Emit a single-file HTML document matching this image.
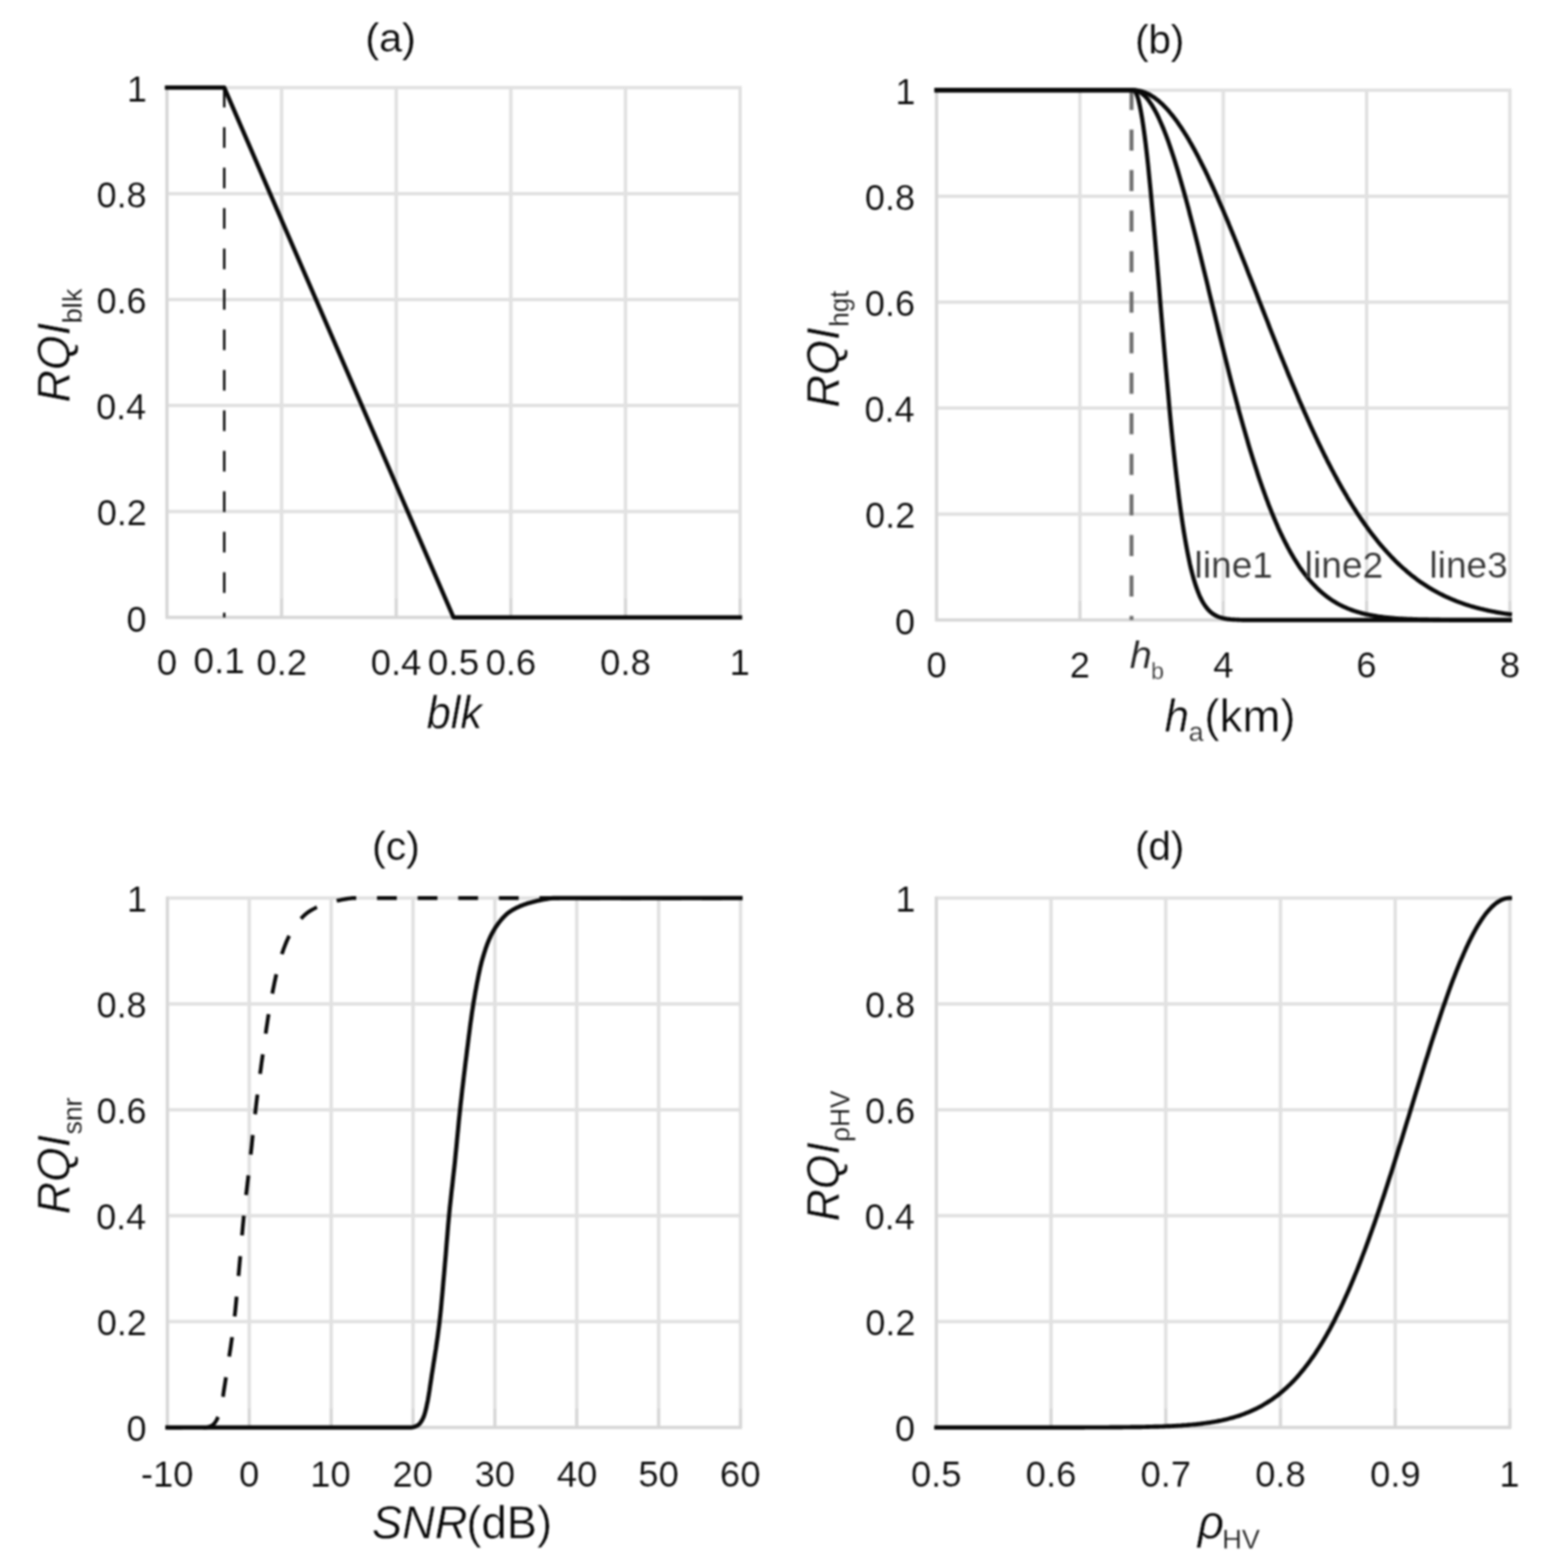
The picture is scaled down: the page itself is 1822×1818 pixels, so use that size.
<!DOCTYPE html>
<html lang="en">
<head>
<meta charset="utf-8">
<title>Radar quality index functions</title>
<style>
html,body{margin:0;padding:0;background:#fff;}
body{width:1822px;height:1818px;overflow:hidden;}
svg{display:block;font-family:"Liberation Sans",sans-serif;}
</style>
</head>
<body>
<svg width="1822" height="1818" viewBox="0 0 1822 1818">
<rect width="1822" height="1818" fill="#fff"/>
<g style="filter:blur(1px)">
<g id="shapes">
<path d="M194,100.3V718.8M327.2,100.3V718.8M460.4,100.3V718.8M593.6,100.3V718.8M726.8,100.3V718.8M860,100.3V718.8M192.5,717.3H861.5M192.5,594.2H861.5M192.5,471.1H861.5M192.5,348H861.5M192.5,224.9H861.5M192.5,101.8H861.5" fill="none" stroke="#e1e1e1" stroke-width="4.0"/>
<path d="M194,695.3V718.8M327.2,695.3V718.8M460.4,695.3V718.8M593.6,695.3V718.8M726.8,695.3V718.8M860,695.3V718.8M194,100.3V718.8M192.5,717.3H861.5" fill="none" stroke="#d6d6d6" stroke-width="3"/>
<path d="M260.6,100.7V717.3" fill="none" stroke="#111" stroke-width="2.9" stroke-dasharray="24 23"/>
<path d="M194,101.8 L260.6,101.8 L327.2,255.7 L393.8,409.5 L460.4,563.4 L527,717.3 L860,717.3" fill="none" stroke="#080808" stroke-width="4.9" stroke-linejoin="round" stroke-linecap="square"/>
<path d="M1088.3,103.3V721.8M1254.85,103.3V721.8M1421.4,103.3V721.8M1587.95,103.3V721.8M1754.5,103.3V721.8M1086.8,720.3H1756M1086.8,597.2H1756M1086.8,474.1H1756M1086.8,351H1756M1086.8,227.9H1756M1086.8,104.8H1756" fill="none" stroke="#e1e1e1" stroke-width="4.0"/>
<path d="M1088.3,698.3V721.8M1254.85,698.3V721.8M1421.4,698.3V721.8M1587.95,698.3V721.8M1754.5,698.3V721.8M1088.3,103.3V721.8M1086.8,720.3H1756" fill="none" stroke="#d6d6d6" stroke-width="3"/>
<path d="M1314.81,103.3V720.3" fill="none" stroke="#707070" stroke-width="4.6" stroke-dasharray="24.5 22.6"/>
<path d="M1088.3,104.8 L1315.9,104.8 L1317.3,104.9 L1318.7,105.8 L1320.1,108 L1321.5,111.5 L1322.9,116.1 L1324.2,121.9 L1325.6,128.8 L1327,136.7 L1328.4,145.8 L1329.8,155.8 L1331.2,166.8 L1332.6,178.6 L1334,191.2 L1335.3,204.6 L1336.7,218.6 L1338.1,233.3 L1339.5,248.4 L1340.9,264 L1342.3,280 L1343.7,296.2 L1345.1,312.7 L1346.5,329.3 L1347.8,346 L1349.2,362.7 L1350.6,379.3 L1352,395.8 L1353.4,412.1 L1354.8,428.2 L1356.2,444 L1357.6,459.5 L1358.9,474.6 L1360.3,489.3 L1361.7,503.5 L1363.1,517.3 L1364.5,530.5 L1365.9,543.3 L1367.3,555.5 L1368.7,567.2 L1370,578.4 L1371.4,589 L1372.8,599 L1374.2,608.5 L1375.6,617.5 L1377,625.9 L1378.4,633.8 L1379.8,641.3 L1381.2,648.2 L1382.5,654.6 L1383.9,660.6 L1385.3,666.2 L1386.7,671.3 L1388.1,676 L1389.5,680.4 L1390.9,684.4 L1392.3,688.1 L1393.6,691.4 L1395,694.5 L1396.4,697.2 L1397.8,699.7 L1399.2,702 L1400.6,704.1 L1402,705.9 L1403.4,707.6 L1404.7,709.1 L1406.1,710.5 L1407.5,711.6 L1408.9,712.7 L1410.3,713.7 L1411.7,714.5 L1413.1,715.3 L1414.5,715.9 L1415.8,716.5 L1417.2,717 L1418.6,717.4 L1420,717.8 L1421.4,718.2 L1422.8,718.5 L1424.2,718.7 L1425.6,719 L1427,719.2 L1428.3,719.3 L1429.7,719.5 L1431.1,719.6 L1432.5,719.7 L1433.9,719.8 L1435.3,719.9 L1436.7,719.9 L1438.1,720 L1439.4,720 L1440.8,720.1 L1442.2,720.1 L1443.6,720.2 L1445,720.2 L1446.4,720.2 L1447.8,720.2 L1449.2,720.2 L1450.5,720.2 L1451.9,720.3 L1453.3,720.3 L1454.7,720.3 L1456.1,720.3 L1457.5,720.3 L1458.9,720.3 L1460.3,720.3 L1461.6,720.3 L1463,720.3 L1464.4,720.3 L1465.8,720.3 L1467.2,720.3 L1470,720.3 L1472.8,720.3 L1476.9,720.3 L1496.3,720.3 L1754.5,720.3" fill="none" stroke="#080808" stroke-width="4.9" stroke-linejoin="round" stroke-linecap="square"/>
<path d="M1088.3,104.8 L1315.9,104.8 L1317.3,104.8 L1318.7,104.9 L1320.1,105.2 L1321.5,105.6 L1322.9,106.1 L1324.2,106.8 L1325.6,107.7 L1327,108.7 L1328.4,109.8 L1329.8,111.1 L1331.2,112.5 L1332.6,114.1 L1334,115.8 L1335.3,117.6 L1336.7,119.6 L1338.1,121.7 L1339.5,123.9 L1340.9,126.3 L1342.3,128.8 L1343.7,131.4 L1345.1,134.2 L1346.5,137.1 L1347.8,140.1 L1349.2,143.2 L1350.6,146.5 L1352,149.8 L1353.4,153.3 L1354.8,156.9 L1356.2,160.6 L1357.6,164.4 L1358.9,168.3 L1360.3,172.4 L1361.7,176.5 L1363.1,180.7 L1364.5,185 L1365.9,189.4 L1367.3,193.9 L1368.7,198.5 L1370,203.1 L1371.4,207.9 L1372.8,212.7 L1374.2,217.6 L1375.6,222.5 L1377,227.6 L1378.4,232.7 L1379.8,237.8 L1381.2,243 L1382.5,248.3 L1383.9,253.6 L1385.3,259 L1386.7,264.4 L1388.1,269.9 L1389.5,275.4 L1390.9,280.9 L1392.3,286.5 L1393.6,292.1 L1395,297.7 L1396.4,303.4 L1397.8,309.1 L1399.2,314.8 L1400.6,320.5 L1402,326.2 L1403.4,332 L1404.7,337.7 L1406.1,343.5 L1407.5,349.2 L1408.9,355 L1410.3,360.7 L1411.7,366.4 L1413.1,372.2 L1414.5,377.9 L1415.8,383.6 L1417.2,389.3 L1418.6,395 L1420,400.6 L1421.4,406.2 L1422.8,411.8 L1424.2,417.4 L1425.6,422.9 L1427,428.5 L1428.3,433.9 L1429.7,439.4 L1431.1,444.8 L1432.5,450.1 L1433.9,455.5 L1435.3,460.7 L1436.7,466 L1438.1,471.1 L1439.4,476.3 L1440.8,481.4 L1442.2,486.4 L1443.6,491.4 L1445,496.3 L1446.4,501.2 L1447.8,506 L1449.2,510.8 L1450.5,515.5 L1451.9,520.2 L1453.3,524.8 L1454.7,529.3 L1456.1,533.8 L1457.5,538.2 L1458.9,542.5 L1460.3,546.8 L1461.6,551 L1463,555.2 L1464.4,559.3 L1465.8,563.3 L1467.2,567.3 L1468.6,571.2 L1470,575 L1471.4,578.8 L1472.8,582.5 L1474.1,586.1 L1475.5,589.7 L1476.9,593.2 L1478.3,596.7 L1479.7,600 L1481.1,603.3 L1482.5,606.6 L1483.9,609.8 L1485.2,612.9 L1486.6,616 L1488,619 L1489.4,621.9 L1490.8,624.8 L1492.2,627.6 L1493.6,630.3 L1495,633 L1496.3,635.6 L1497.7,638.2 L1499.1,640.7 L1500.5,643.2 L1501.9,645.6 L1503.3,647.9 L1504.7,650.2 L1506.1,652.4 L1507.5,654.6 L1508.8,656.7 L1510.2,658.8 L1511.6,660.8 L1513,662.7 L1514.4,664.6 L1515.8,666.5 L1517.2,668.3 L1518.6,670 L1519.9,671.7 L1521.3,673.4 L1522.7,675 L1524.1,676.6 L1525.5,678.1 L1526.9,679.6 L1528.3,681 L1529.7,682.4 L1531,683.8 L1532.4,685.1 L1533.8,686.4 L1535.2,687.6 L1536.6,688.8 L1538,690 L1539.4,691.1 L1540.8,692.2 L1542.1,693.3 L1543.5,694.3 L1544.9,695.3 L1546.3,696.3 L1547.7,697.2 L1549.1,698.1 L1550.5,698.9 L1551.9,699.8 L1553.3,700.6 L1554.6,701.4 L1556,702.1 L1557.4,702.9 L1558.8,703.6 L1560.2,704.2 L1561.6,704.9 L1563,705.5 L1564.4,706.1 L1565.7,706.7 L1567.1,707.3 L1568.5,707.8 L1569.9,708.4 L1571.3,708.9 L1572.7,709.4 L1574.1,709.8 L1575.5,710.3 L1576.8,710.7 L1578.2,711.1 L1579.6,711.5 L1581,711.9 L1582.4,712.3 L1583.8,712.7 L1585.2,713 L1586.6,713.3 L1588,713.6 L1589.3,713.9 L1590.7,714.2 L1592.1,714.5 L1593.5,714.8 L1594.9,715 L1596.3,715.3 L1597.7,715.5 L1599.1,715.7 L1600.4,716 L1601.8,716.2 L1603.2,716.4 L1604.6,716.5 L1606,716.7 L1607.4,716.9 L1608.8,717.1 L1610.2,717.2 L1611.5,717.4 L1612.9,717.5 L1614.3,717.7 L1615.7,717.8 L1617.1,717.9 L1618.5,718 L1619.9,718.1 L1621.3,718.3 L1622.6,718.4 L1624,718.5 L1625.4,718.6 L1626.8,718.6 L1628.2,718.7 L1629.6,718.8 L1631,718.9 L1632.4,719 L1633.8,719 L1635.1,719.1 L1636.5,719.2 L1637.9,719.2 L1639.3,719.3 L1640.7,719.3 L1642.1,719.4 L1643.5,719.4 L1644.9,719.5 L1646.2,719.5 L1647.6,719.6 L1649,719.6 L1650.4,719.6 L1651.8,719.7 L1653.2,719.7 L1654.6,719.8 L1656,719.8 L1657.3,719.8 L1658.7,719.8 L1660.1,719.9 L1661.5,719.9 L1662.9,719.9 L1664.3,719.9 L1665.7,720 L1667.1,720 L1668.4,720 L1669.8,720 L1671.2,720 L1672.6,720 L1674,720.1 L1675.4,720.1 L1676.8,720.1 L1678.2,720.1 L1679.6,720.1 L1680.9,720.1 L1682.3,720.1 L1683.7,720.1 L1685.1,720.2 L1686.5,720.2 L1687.9,720.2 L1689.3,720.2 L1690.7,720.2 L1692,720.2 L1693.4,720.2 L1694.8,720.2 L1696.2,720.2 L1697.6,720.2 L1699,720.2 L1700.4,720.2 L1701.8,720.2 L1703.1,720.2 L1704.5,720.2 L1705.9,720.2 L1707.3,720.2 L1708.7,720.3 L1710.1,720.3 L1711.5,720.3 L1712.9,720.3 L1714.3,720.3 L1715.6,720.3 L1717,720.3 L1718.4,720.3 L1719.8,720.3 L1721.2,720.3 L1722.6,720.3 L1724,720.3 L1725.4,720.3 L1726.7,720.3 L1728.1,720.3 L1729.5,720.3 L1730.9,720.3 L1732.3,720.3 L1733.7,720.3 L1736.5,720.3 L1739.2,720.3 L1742,720.3 L1744.8,720.3 L1747.6,720.3 L1751.7,720.3 L1754.5,720.3" fill="none" stroke="#080808" stroke-width="4.9" stroke-linejoin="round" stroke-linecap="square"/>
<path d="M1088.3,104.8 L1315.9,104.8 L1317.3,104.8 L1318.7,104.8 L1320.1,104.9 L1321.5,105.1 L1322.9,105.3 L1324.2,105.6 L1325.6,105.9 L1327,106.3 L1328.4,106.7 L1329.8,107.2 L1331.2,107.8 L1332.6,108.4 L1334,109 L1335.3,109.7 L1336.7,110.5 L1338.1,111.3 L1339.5,112.2 L1340.9,113.1 L1342.3,114.1 L1343.7,115.2 L1345.1,116.2 L1346.5,117.4 L1347.8,118.6 L1349.2,119.8 L1350.6,121.1 L1352,122.5 L1353.4,123.9 L1354.8,125.3 L1356.2,126.8 L1357.6,128.4 L1358.9,130 L1360.3,131.7 L1361.7,133.4 L1363.1,135.1 L1364.5,136.9 L1365.9,138.7 L1367.3,140.6 L1368.7,142.6 L1370,144.6 L1371.4,146.6 L1372.8,148.7 L1374.2,150.8 L1375.6,153 L1377,155.2 L1378.4,157.4 L1379.8,159.7 L1381.2,162 L1382.5,164.4 L1383.9,166.8 L1385.3,169.3 L1386.7,171.8 L1388.1,174.3 L1389.5,176.9 L1390.9,179.5 L1392.3,182.1 L1393.6,184.8 L1395,187.5 L1396.4,190.3 L1397.8,193 L1399.2,195.9 L1400.6,198.7 L1402,201.6 L1403.4,204.5 L1404.7,207.4 L1406.1,210.4 L1407.5,213.4 L1408.9,216.4 L1410.3,219.5 L1411.7,222.6 L1413.1,225.7 L1414.5,228.8 L1415.8,232 L1417.2,235.2 L1418.6,238.4 L1420,241.6 L1421.4,244.8 L1422.8,248.1 L1424.2,251.4 L1425.6,254.7 L1427,258 L1428.3,261.4 L1429.7,264.8 L1431.1,268.1 L1432.5,271.5 L1433.9,274.9 L1435.3,278.4 L1436.7,281.8 L1438.1,285.3 L1439.4,288.7 L1440.8,292.2 L1442.2,295.7 L1443.6,299.2 L1445,302.7 L1446.4,306.2 L1447.8,309.7 L1449.2,313.3 L1450.5,316.8 L1451.9,320.3 L1453.3,323.9 L1454.7,327.4 L1456.1,331 L1457.5,334.5 L1458.9,338.1 L1460.3,341.7 L1461.6,345.2 L1463,348.8 L1464.4,352.3 L1465.8,355.9 L1467.2,359.5 L1468.6,363 L1470,366.6 L1471.4,370.1 L1472.8,373.7 L1474.1,377.2 L1475.5,380.8 L1476.9,384.3 L1478.3,387.8 L1479.7,391.3 L1481.1,394.8 L1482.5,398.3 L1483.9,401.8 L1485.2,405.3 L1486.6,408.8 L1488,412.3 L1489.4,415.7 L1490.8,419.2 L1492.2,422.6 L1493.6,426 L1495,429.4 L1496.3,432.8 L1497.7,436.2 L1499.1,439.5 L1500.5,442.9 L1501.9,446.2 L1503.3,449.5 L1504.7,452.8 L1506.1,456.1 L1507.5,459.4 L1508.8,462.7 L1510.2,465.9 L1511.6,469.1 L1513,472.3 L1514.4,475.5 L1515.8,478.7 L1517.2,481.8 L1518.6,484.9 L1519.9,488 L1521.3,491.1 L1522.7,494.2 L1524.1,497.2 L1525.5,500.2 L1526.9,503.2 L1528.3,506.2 L1529.7,509.2 L1531,512.1 L1532.4,515 L1533.8,517.9 L1535.2,520.8 L1536.6,523.6 L1538,526.5 L1539.4,529.3 L1540.8,532 L1542.1,534.8 L1543.5,537.5 L1544.9,540.2 L1546.3,542.9 L1547.7,545.6 L1549.1,548.2 L1550.5,550.8 L1551.9,553.4 L1553.3,556 L1554.6,558.5 L1556,561 L1557.4,563.5 L1558.8,566 L1560.2,568.4 L1561.6,570.8 L1563,573.2 L1564.4,575.6 L1565.7,577.9 L1567.1,580.2 L1568.5,582.5 L1569.9,584.8 L1571.3,587 L1572.7,589.2 L1574.1,591.4 L1575.5,593.6 L1576.8,595.7 L1578.2,597.8 L1579.6,599.9 L1581,602 L1582.4,604 L1583.8,606 L1585.2,608 L1586.6,610 L1588,611.9 L1589.3,613.8 L1590.7,615.7 L1592.1,617.6 L1593.5,619.4 L1594.9,621.2 L1596.3,623 L1597.7,624.8 L1599.1,626.6 L1600.4,628.3 L1601.8,630 L1603.2,631.7 L1604.6,633.3 L1606,634.9 L1607.4,636.5 L1608.8,638.1 L1610.2,639.7 L1611.5,641.2 L1612.9,642.7 L1614.3,644.2 L1615.7,645.7 L1617.1,647.2 L1618.5,648.6 L1619.9,650 L1621.3,651.4 L1622.6,652.8 L1624,654.1 L1625.4,655.4 L1626.8,656.7 L1628.2,658 L1629.6,659.3 L1631,660.5 L1632.4,661.7 L1633.8,662.9 L1635.1,664.1 L1636.5,665.3 L1637.9,666.4 L1639.3,667.6 L1640.7,668.7 L1642.1,669.7 L1643.5,670.8 L1644.9,671.9 L1646.2,672.9 L1647.6,673.9 L1649,674.9 L1650.4,675.9 L1651.8,676.9 L1653.2,677.8 L1654.6,678.7 L1656,679.6 L1657.3,680.5 L1658.7,681.4 L1660.1,682.3 L1661.5,683.1 L1662.9,684 L1664.3,684.8 L1665.7,685.6 L1667.1,686.4 L1668.4,687.1 L1669.8,687.9 L1671.2,688.6 L1672.6,689.4 L1674,690.1 L1675.4,690.8 L1676.8,691.5 L1678.2,692.2 L1679.6,692.8 L1680.9,693.5 L1682.3,694.1 L1683.7,694.7 L1685.1,695.3 L1686.5,695.9 L1687.9,696.5 L1689.3,697.1 L1690.7,697.6 L1692,698.2 L1693.4,698.7 L1694.8,699.3 L1696.2,699.8 L1697.6,700.3 L1699,700.8 L1700.4,701.3 L1701.8,701.7 L1703.1,702.2 L1704.5,702.7 L1705.9,703.1 L1707.3,703.5 L1708.7,704 L1710.1,704.4 L1711.5,704.8 L1712.9,705.2 L1714.3,705.6 L1715.6,705.9 L1717,706.3 L1718.4,706.7 L1719.8,707 L1721.2,707.4 L1722.6,707.7 L1724,708 L1725.4,708.4 L1726.7,708.7 L1728.1,709 L1729.5,709.3 L1730.9,709.6 L1732.3,709.9 L1733.7,710.2 L1735.1,710.4 L1736.5,710.7 L1737.8,711 L1739.2,711.2 L1740.6,711.5 L1742,711.7 L1743.4,711.9 L1744.8,712.2 L1746.2,712.4 L1747.6,712.6 L1748.9,712.8 L1750.3,713 L1751.7,713.2 L1753.1,713.4 L1754.5,713.6" fill="none" stroke="#080808" stroke-width="4.9" stroke-linejoin="round" stroke-linecap="square"/>
<path d="M194.5,1041.7V1659.7M289.64,1041.7V1659.7M384.79,1041.7V1659.7M479.93,1041.7V1659.7M575.07,1041.7V1659.7M670.21,1041.7V1659.7M765.36,1041.7V1659.7M860.5,1041.7V1659.7M193,1658.2H862M193,1535.2H862M193,1412.2H862M193,1289.2H862M193,1166.2H862M193,1043.2H862" fill="none" stroke="#e1e1e1" stroke-width="4.0"/>
<path d="M194.5,1636.2V1659.7M289.64,1636.2V1659.7M384.79,1636.2V1659.7M479.93,1636.2V1659.7M575.07,1636.2V1659.7M670.21,1636.2V1659.7M765.36,1636.2V1659.7M860.5,1636.2V1659.7M194.5,1041.7V1659.7M193,1658.2H862" fill="none" stroke="#d6d6d6" stroke-width="3"/>
<path d="M194.5,1658.2 L239.2,1658.2 L240.2,1658.1 L241.1,1657.9 L242.1,1657.6 L243,1657.3 L244,1657 L244.9,1656.6 L245.9,1656.1 L246.8,1655.5 L247.8,1654.8 L248.7,1653.9 L249.7,1652.8 L250.6,1651.4 L251.6,1649.8 L252.5,1648 L253.5,1645.9 L254.4,1643.3 L255.4,1639.9 L256.3,1635.9 L257.3,1631.5 L258.2,1626.9 L259.2,1621.6 L260.1,1615.7 L261.1,1609.4 L262.1,1603 L263,1596.7 L264,1590.6 L264.9,1584.6 L265.9,1578.6 L266.8,1572.6 L267.8,1566.4 L268.7,1560 L269.7,1553.3 L270.6,1546.2 L271.6,1538.7 L272.5,1530.6 L273.5,1521.6 L274.4,1511.9 L275.4,1501.7 L276.3,1491.1 L277.3,1480.6 L278.2,1470.2 L279.2,1459.4 L280.1,1448.2 L281.1,1437 L282,1426.2 L283,1415.9 L283.9,1406.5 L284.9,1397.7 L285.8,1389.3 L286.8,1381.2 L287.7,1373.2 L288.7,1365.2 L289.6,1357 L290.6,1348.5 L291.5,1339.7 L292.5,1330.7 L293.4,1321.5 L294.4,1312.4 L295.4,1303.5 L296.3,1294.9 L297.3,1286.8 L298.2,1278.9 L299.2,1271.2 L300.1,1263.6 L301.1,1256.3 L302,1249 L303,1241.9 L303.9,1235 L304.9,1228.1 L305.8,1221.3 L306.8,1214.4 L307.7,1207.7 L308.7,1201 L309.6,1194.4 L310.6,1188 L311.5,1181.9 L312.5,1175.9 L313.4,1170.3 L314.4,1165 L315.3,1159.9 L316.3,1154.9 L317.2,1150 L318.2,1145.3 L319.1,1140.7 L320.1,1136.2 L321,1132 L322,1127.9 L322.9,1124.1 L323.9,1120.4 L324.8,1117 L325.8,1113.9 L326.7,1110.8 L327.7,1107.8 L328.7,1105 L329.6,1102.3 L330.6,1099.7 L331.5,1097.3 L332.5,1094.9 L333.4,1092.7 L334.4,1090.6 L335.3,1088.6 L336.3,1086.8 L337.2,1085 L338.2,1083.3 L339.1,1081.6 L340.1,1080.1 L341,1078.6 L342,1077.1 L342.9,1075.8 L343.9,1074.4 L344.8,1073.2 L345.8,1071.9 L346.7,1070.8 L347.7,1069.6 L348.6,1068.5 L349.6,1067.5 L350.5,1066.4 L351.5,1065.4 L352.4,1064.4 L353.4,1063.5 L354.3,1062.6 L355.3,1061.8 L356.2,1061 L357.2,1060.3 L358.1,1059.6 L359.1,1059 L360,1058.3 L361,1057.7 L362,1057.2 L362.9,1056.6 L363.9,1056.1 L364.8,1055.6 L365.8,1055.1 L366.7,1054.6 L367.7,1054.1 L368.6,1053.7 L369.6,1053.3 L370.5,1052.8 L371.5,1052.4 L372.4,1052.1 L373.4,1051.7 L374.3,1051.3 L375.3,1051 L376.2,1050.6 L377.2,1050.3 L378.1,1050 L379.1,1049.7 L380,1049.4 L381,1049.1 L381.9,1048.8 L382.9,1048.5 L383.8,1048.3 L384.8,1048 L385.7,1047.8 L386.7,1047.5 L387.6,1047.3 L388.6,1047.1 L389.5,1046.8 L390.5,1046.6 L391.4,1046.4 L392.4,1046.2 L393.3,1046 L394.3,1045.8 L395.3,1045.6 L396.2,1045.4 L397.2,1045.2 L398.1,1045 L399.1,1044.9 L400,1044.7 L401,1044.5 L401.9,1044.3 L402.9,1044.2 L403.8,1044 L404.8,1043.9 L405.7,1043.7 L406.7,1043.6 L407.6,1043.5 L408.6,1043.3 L409.5,1043.2 L860.5,1043.2" fill="none" stroke="#080808" stroke-width="4.4" stroke-linejoin="round" stroke-linecap="butt" stroke-dasharray="23 24.2" stroke-dashoffset="5.67"/>
<path d="M194.5,1658.2 L478,1658.2 L479,1658.1 L479.9,1657.9 L480.9,1657.6 L481.8,1657.3 L482.8,1657 L483.7,1656.6 L484.7,1656.1 L485.6,1655.5 L486.6,1654.8 L487.5,1653.9 L488.5,1652.8 L489.4,1651.4 L490.4,1649.8 L491.3,1648 L492.3,1645.9 L493.2,1643.3 L494.2,1639.9 L495.2,1635.9 L496.1,1631.5 L497.1,1626.9 L498,1621.6 L499,1615.7 L499.9,1609.4 L500.9,1603 L501.8,1596.7 L502.8,1590.6 L503.7,1584.6 L504.7,1578.5 L505.6,1572.5 L506.6,1566.3 L507.5,1559.8 L508.5,1553.1 L509.4,1546 L510.4,1538.4 L511.3,1530.2 L512.3,1521 L513.2,1511.1 L514.2,1500.6 L515.1,1489.8 L516.1,1479 L517,1468.3 L518,1457 L518.9,1445.4 L519.9,1433.8 L520.8,1422.6 L521.8,1412.2 L522.7,1402.7 L523.7,1393.7 L524.6,1385.1 L525.6,1376.6 L526.5,1368.2 L527.5,1359.6 L528.5,1350.7 L529.4,1341.3 L530.4,1331.5 L531.3,1321.6 L532.3,1311.7 L533.2,1302.1 L534.2,1292.8 L535.1,1284 L536.1,1275.4 L537,1267 L538,1258.9 L538.9,1250.9 L539.9,1243 L540.8,1235.3 L541.8,1227.7 L542.7,1220.1 L543.7,1212.5 L544.6,1205 L545.6,1197.5 L546.5,1190.3 L547.5,1183.3 L548.4,1176.6 L549.4,1170.3 L550.3,1164.5 L551.3,1158.8 L552.2,1153.3 L553.2,1148 L554.1,1142.8 L555.1,1137.9 L556,1133.1 L557,1128.6 L557.9,1124.4 L558.9,1120.4 L559.8,1116.7 L560.8,1113.3 L561.8,1110.1 L562.7,1106.9 L563.7,1103.9 L564.6,1101.1 L565.6,1098.4 L566.5,1095.9 L567.5,1093.5 L568.4,1091.2 L569.4,1089.1 L570.3,1087.1 L571.3,1085.2 L572.2,1083.4 L573.2,1081.7 L574.1,1080.1 L575.1,1078.5 L576,1077 L577,1075.6 L577.9,1074.3 L578.9,1073 L579.8,1071.7 L580.8,1070.5 L581.7,1069.3 L582.7,1068.2 L583.6,1067.1 L584.6,1066.1 L585.5,1065 L586.5,1064.1 L587.4,1063.1 L588.4,1062.2 L589.3,1061.4 L590.3,1060.6 L591.2,1059.9 L592.2,1059.2 L593.1,1058.6 L594.1,1058 L595.1,1057.4 L596,1056.8 L597,1056.3 L597.9,1055.8 L598.9,1055.2 L599.8,1054.8 L600.8,1054.3 L601.7,1053.8 L602.7,1053.4 L603.6,1053 L604.6,1052.5 L605.5,1052.1 L606.5,1051.8 L607.4,1051.4 L608.4,1051 L609.3,1050.7 L610.3,1050.4 L611.2,1050.1 L612.2,1049.7 L613.1,1049.4 L614.1,1049.1 L615,1048.9 L616,1048.6 L616.9,1048.3 L617.9,1048.1 L618.8,1047.8 L619.8,1047.6 L620.7,1047.3 L621.7,1047.1 L622.6,1046.9 L623.6,1046.6 L624.5,1046.4 L625.5,1046.2 L626.4,1046 L627.4,1045.8 L628.4,1045.6 L629.3,1045.4 L630.3,1045.2 L631.2,1045 L632.2,1044.9 L633.1,1044.7 L634.1,1044.5 L635,1044.3 L636,1044.2 L636.9,1044 L637.9,1043.9 L638.8,1043.7 L639.8,1043.6 L640.7,1043.5 L641.7,1043.3 L642.6,1043.2 L860.5,1043.2" fill="none" stroke="#080808" stroke-width="4.9" stroke-linejoin="round" stroke-linecap="square"/>
<path d="M1088,1041.7V1659.7M1221.3,1041.7V1659.7M1354.6,1041.7V1659.7M1487.9,1041.7V1659.7M1621.2,1041.7V1659.7M1754.5,1041.7V1659.7M1086.5,1658.2H1756M1086.5,1535.2H1756M1086.5,1412.2H1756M1086.5,1289.2H1756M1086.5,1166.2H1756M1086.5,1043.2H1756" fill="none" stroke="#e1e1e1" stroke-width="4.0"/>
<path d="M1088,1636.2V1659.7M1221.3,1636.2V1659.7M1354.6,1636.2V1659.7M1487.9,1636.2V1659.7M1621.2,1636.2V1659.7M1754.5,1636.2V1659.7M1088,1041.7V1659.7M1086.5,1658.2H1756" fill="none" stroke="#d6d6d6" stroke-width="3"/>
<path d="M1088,1658.2 L1168,1658.2 L1183.5,1658.2 L1192.4,1658.2 L1199.1,1658.2 L1205.7,1658.2 L1210.2,1658.2 L1214.6,1658.2 L1219.1,1658.2 L1221.3,1658.2 L1223.5,1658.2 L1225.7,1658.2 L1228,1658.2 L1230.2,1658.2 L1232.4,1658.2 L1234.6,1658.2 L1236.9,1658.2 L1239.1,1658.2 L1241.3,1658.2 L1243.5,1658.2 L1245.7,1658.2 L1248,1658.2 L1250.2,1658.2 L1252.4,1658.2 L1254.6,1658.2 L1256.8,1658.2 L1259.1,1658.2 L1261.3,1658.1 L1263.5,1658.1 L1265.7,1658.1 L1268,1658.1 L1270.2,1658.1 L1272.4,1658.1 L1274.6,1658.1 L1276.8,1658.1 L1279.1,1658.1 L1281.3,1658.1 L1283.5,1658.1 L1285.7,1658.1 L1288,1658.1 L1290.2,1658 L1292.4,1658 L1294.6,1658 L1296.8,1658 L1299.1,1658 L1301.3,1658 L1303.5,1658 L1305.7,1657.9 L1307.9,1657.9 L1310.2,1657.9 L1312.4,1657.9 L1314.6,1657.8 L1316.8,1657.8 L1319.1,1657.8 L1321.3,1657.7 L1323.5,1657.7 L1325.7,1657.7 L1327.9,1657.6 L1330.2,1657.6 L1332.4,1657.5 L1334.6,1657.5 L1336.8,1657.4 L1339,1657.4 L1341.3,1657.3 L1343.5,1657.3 L1345.7,1657.2 L1347.9,1657.1 L1350.2,1657.1 L1352.4,1657 L1354.6,1656.9 L1356.8,1656.8 L1359,1656.7 L1361.3,1656.6 L1363.5,1656.5 L1365.7,1656.4 L1367.9,1656.2 L1370.2,1656.1 L1372.4,1656 L1374.6,1655.8 L1376.8,1655.6 L1379,1655.5 L1381.3,1655.3 L1383.5,1655.1 L1385.7,1654.9 L1387.9,1654.7 L1390.1,1654.5 L1392.4,1654.2 L1394.6,1654 L1396.8,1653.7 L1399,1653.4 L1401.3,1653.1 L1403.5,1652.8 L1405.7,1652.5 L1407.9,1652.1 L1410.1,1651.8 L1412.4,1651.4 L1414.6,1651 L1416.8,1650.5 L1419,1650.1 L1421.2,1649.6 L1423.5,1649.1 L1425.7,1648.6 L1427.9,1648 L1430.1,1647.4 L1432.4,1646.8 L1434.6,1646.2 L1436.8,1645.5 L1439,1644.8 L1441.2,1644.1 L1443.5,1643.3 L1445.7,1642.5 L1447.9,1641.6 L1450.1,1640.7 L1452.4,1639.8 L1454.6,1638.8 L1456.8,1637.8 L1459,1636.8 L1461.2,1635.6 L1463.5,1634.5 L1465.7,1633.3 L1467.9,1632 L1470.1,1630.7 L1472.3,1629.4 L1474.6,1627.9 L1476.8,1626.5 L1479,1624.9 L1481.2,1623.3 L1483.5,1621.7 L1485.7,1620 L1487.9,1618.2 L1490.1,1616.3 L1492.3,1614.4 L1494.6,1612.4 L1496.8,1610.3 L1499,1608.2 L1501.2,1606 L1503.5,1603.7 L1505.7,1601.3 L1507.9,1598.8 L1510.1,1596.3 L1512.3,1593.6 L1514.6,1590.9 L1516.8,1588.1 L1519,1585.2 L1521.2,1582.3 L1523.4,1579.2 L1525.7,1576 L1527.9,1572.8 L1530.1,1569.4 L1532.3,1566 L1534.6,1562.4 L1536.8,1558.8 L1539,1555 L1541.2,1551.2 L1543.4,1547.2 L1545.7,1543.2 L1547.9,1539 L1550.1,1534.8 L1552.3,1530.4 L1554.5,1525.9 L1556.8,1521.4 L1559,1516.7 L1561.2,1511.9 L1563.4,1507 L1565.7,1502 L1567.9,1497 L1570.1,1491.8 L1572.3,1486.5 L1574.5,1481.1 L1576.8,1475.6 L1579,1470 L1581.2,1464.3 L1583.4,1458.5 L1585.7,1452.6 L1587.9,1446.7 L1590.1,1440.6 L1592.3,1434.4 L1594.5,1428.2 L1596.8,1421.9 L1599,1415.5 L1601.2,1409 L1603.4,1402.4 L1605.6,1395.8 L1607.9,1389.1 L1610.1,1382.3 L1612.3,1375.5 L1614.5,1368.6 L1616.8,1361.6 L1619,1354.6 L1621.2,1347.6 L1623.4,1340.5 L1625.6,1333.3 L1627.9,1326.2 L1630.1,1319 L1632.3,1311.8 L1634.5,1304.5 L1636.8,1297.3 L1639,1290 L1641.2,1282.7 L1643.4,1275.5 L1645.6,1268.2 L1647.9,1261 L1650.1,1253.8 L1652.3,1246.6 L1654.5,1239.4 L1656.7,1232.3 L1659,1225.2 L1661.2,1218.1 L1663.4,1211.1 L1665.6,1204.2 L1667.9,1197.4 L1670.1,1190.6 L1672.3,1183.9 L1674.5,1177.3 L1676.7,1170.7 L1679,1164.3 L1681.2,1158 L1683.4,1151.8 L1685.6,1145.7 L1687.8,1139.7 L1690.1,1133.9 L1692.3,1128.2 L1694.5,1122.6 L1696.7,1117.2 L1699,1112 L1701.2,1106.9 L1703.4,1101.9 L1705.6,1097.2 L1707.8,1092.6 L1710.1,1088.1 L1712.3,1083.9 L1714.5,1079.9 L1716.7,1076 L1719,1072.4 L1721.2,1068.9 L1723.4,1065.6 L1725.6,1062.6 L1727.8,1059.8 L1730.1,1057.2 L1732.3,1054.8 L1734.5,1052.6 L1736.7,1050.6 L1738.9,1048.9 L1741.2,1047.4 L1743.4,1046.1 L1745.6,1045.1 L1747.8,1044.2 L1750.1,1043.7 L1752.3,1043.3 L1754.5,1043.2" fill="none" stroke="#080808" stroke-width="4.9" stroke-linejoin="round" stroke-linecap="square"/>
</g>
<g id="labels">
<text transform="translate(147.01,733.5) scale(0.975,1)" font-size="43" fill="#0a0a0a" stroke="#fff" stroke-width="0.2">0</text>
<text transform="translate(112.39,610.4) scale(0.975,1)" font-size="43" fill="#0a0a0a" stroke="#fff" stroke-width="0.2">0.2</text>
<text transform="translate(111.66,487.3) scale(0.975,1)" font-size="43" fill="#0a0a0a" stroke="#fff" stroke-width="0.2">0.4</text>
<text transform="translate(112.15,364.2) scale(0.975,1)" font-size="43" fill="#0a0a0a" stroke="#fff" stroke-width="0.2">0.6</text>
<text transform="translate(112.15,241.1) scale(0.975,1)" font-size="43" fill="#0a0a0a" stroke="#fff" stroke-width="0.2">0.8</text>
<text transform="translate(147.49,118) scale(0.975,1)" font-size="43" fill="#0a0a0a" stroke="#fff" stroke-width="0.2">1</text>
<text transform="translate(182.18,784.2) scale(0.985,1)" font-size="43" fill="#0a0a0a" stroke="#fff" stroke-width="0.2">0</text>
<text transform="translate(297.9,784.2) scale(0.985,1)" font-size="43" fill="#0a0a0a" stroke="#fff" stroke-width="0.2">0.2</text>
<text transform="translate(430.73,784.2) scale(0.985,1)" font-size="43" fill="#0a0a0a" stroke="#fff" stroke-width="0.2">0.4</text>
<text transform="translate(564.17,784.2) scale(0.985,1)" font-size="43" fill="#0a0a0a" stroke="#fff" stroke-width="0.2">0.6</text>
<text transform="translate(697.37,784.2) scale(0.985,1)" font-size="43" fill="#0a0a0a" stroke="#fff" stroke-width="0.2">0.8</text>
<text transform="translate(847.69,784.2) scale(0.985,1)" font-size="43" fill="#0a0a0a" stroke="#fff" stroke-width="0.2">1</text>
<text transform="translate(224.75,781.6)" font-size="43" fill="#0a0a0a" stroke="#fff" stroke-width="0.2">0.1</text>
<text transform="translate(497.12,784.2)" font-size="43" fill="#0a0a0a" stroke="#fff" stroke-width="0.2">0.5</text>
<text transform="translate(424.42,59.5) scale(1.0475,1)" font-size="46" fill="#0a0a0a" stroke="#fff" stroke-width="0.2">(a)</text>
<text transform="translate(80.8,467.49) rotate(-90) scale(0.9636,1)" font-size="54" font-style="italic" fill="#080808" stroke="#fff" stroke-width="0.5">RQI</text>
<text transform="translate(95,375.78) rotate(-90) scale(0.9923,1)" font-size="32" fill="#080808" stroke="#fff" stroke-width="0.3">blk</text>
<text transform="translate(495.79,846.3) scale(0.9434,1)" font-size="53.5" font-style="italic" fill="#080808" stroke="#fff" stroke-width="0.5">blk</text>
<text transform="translate(1039.91,736.5) scale(0.975,1)" font-size="43" fill="#0a0a0a" stroke="#fff" stroke-width="0.2">0</text>
<text transform="translate(1005.29,613.4) scale(0.975,1)" font-size="43" fill="#0a0a0a" stroke="#fff" stroke-width="0.2">0.2</text>
<text transform="translate(1004.56,490.3) scale(0.975,1)" font-size="43" fill="#0a0a0a" stroke="#fff" stroke-width="0.2">0.4</text>
<text transform="translate(1005.05,367.2) scale(0.975,1)" font-size="43" fill="#0a0a0a" stroke="#fff" stroke-width="0.2">0.6</text>
<text transform="translate(1005.05,244.1) scale(0.975,1)" font-size="43" fill="#0a0a0a" stroke="#fff" stroke-width="0.2">0.8</text>
<text transform="translate(1040.39,121) scale(0.975,1)" font-size="43" fill="#0a0a0a" stroke="#fff" stroke-width="0.2">1</text>
<text transform="translate(1076.48,787.2) scale(0.985,1)" font-size="43" fill="#0a0a0a" stroke="#fff" stroke-width="0.2">0</text>
<text transform="translate(1243.03,787.2) scale(0.985,1)" font-size="43" fill="#0a0a0a" stroke="#fff" stroke-width="0.2">2</text>
<text transform="translate(1409.7,787.2) scale(0.985,1)" font-size="43" fill="#0a0a0a" stroke="#fff" stroke-width="0.2">4</text>
<text transform="translate(1576.01,787.2) scale(0.985,1)" font-size="43" fill="#0a0a0a" stroke="#fff" stroke-width="0.2">6</text>
<text transform="translate(1742.68,787.2) scale(0.985,1)" font-size="43" fill="#0a0a0a" stroke="#fff" stroke-width="0.2">8</text>
<text transform="translate(1318.9,61.6) scale(1.0198,1)" font-size="46" fill="#0a0a0a" stroke="#fff" stroke-width="0.2">(b)</text>
<text transform="translate(974.8,473.5) rotate(-90) scale(0.969,1)" font-size="54" font-style="italic" fill="#080808" stroke="#fff" stroke-width="0.5">RQI</text>
<text transform="translate(986.3,379.42) rotate(-90) scale(0.9429,1)" font-size="32" fill="#080808" stroke="#fff" stroke-width="0.3">hgt</text>
<text transform="translate(1388.12,670.8) scale(1.0118,1)" font-size="42.5" fill="#333" stroke="#fff" stroke-width="0.2">line1</text>
<text transform="translate(1516.1,670.8) scale(1.0165,1)" font-size="42.5" fill="#333" stroke="#fff" stroke-width="0.2">line2</text>
<text transform="translate(1661.01,670.8) scale(1.0135,1)" font-size="42.5" fill="#333" stroke="#fff" stroke-width="0.2">line3</text>
<text transform="translate(1312.71,776) scale(1.0529,1)" font-size="44" font-style="italic" fill="#222" stroke="#fff" stroke-width="0.2">h</text>
<text transform="translate(1337.45,789.3)" font-size="27" fill="#2a2a2a" stroke="#fff" stroke-width="0.3">b</text>
<text transform="translate(1353.34,849.6) scale(0.9615,1)" font-size="53" font-style="italic" fill="#080808" stroke="#fff" stroke-width="0.5">h</text>
<text transform="translate(1381.15,861.1)" font-size="31" fill="#222" stroke="#fff" stroke-width="0.3">a</text>
<text transform="translate(1399.55,849.6) scale(0.999,1)" font-size="53" fill="#080808" stroke="#fff" stroke-width="0.5">(km)</text>
<text transform="translate(147.01,1674.4) scale(0.975,1)" font-size="43" fill="#0a0a0a" stroke="#fff" stroke-width="0.2">0</text>
<text transform="translate(112.39,1551.4) scale(0.975,1)" font-size="43" fill="#0a0a0a" stroke="#fff" stroke-width="0.2">0.2</text>
<text transform="translate(111.66,1428.4) scale(0.975,1)" font-size="43" fill="#0a0a0a" stroke="#fff" stroke-width="0.2">0.4</text>
<text transform="translate(112.15,1305.4) scale(0.975,1)" font-size="43" fill="#0a0a0a" stroke="#fff" stroke-width="0.2">0.6</text>
<text transform="translate(112.15,1182.4) scale(0.975,1)" font-size="43" fill="#0a0a0a" stroke="#fff" stroke-width="0.2">0.8</text>
<text transform="translate(147.49,1059.4) scale(0.975,1)" font-size="43" fill="#0a0a0a" stroke="#fff" stroke-width="0.2">1</text>
<text transform="translate(163.72,1726.5) scale(0.985,1)" font-size="43" fill="#0a0a0a" stroke="#fff" stroke-width="0.2">-10</text>
<text transform="translate(277.82,1726.5) scale(0.985,1)" font-size="43" fill="#0a0a0a" stroke="#fff" stroke-width="0.2">0</text>
<text transform="translate(360.41,1726.5) scale(0.985,1)" font-size="43" fill="#0a0a0a" stroke="#fff" stroke-width="0.2">10</text>
<text transform="translate(456.04,1726.5) scale(0.985,1)" font-size="43" fill="#0a0a0a" stroke="#fff" stroke-width="0.2">20</text>
<text transform="translate(551.43,1726.5) scale(0.985,1)" font-size="43" fill="#0a0a0a" stroke="#fff" stroke-width="0.2">30</text>
<text transform="translate(646.94,1726.5) scale(0.985,1)" font-size="43" fill="#0a0a0a" stroke="#fff" stroke-width="0.2">40</text>
<text transform="translate(741.72,1726.5) scale(0.985,1)" font-size="43" fill="#0a0a0a" stroke="#fff" stroke-width="0.2">50</text>
<text transform="translate(836.61,1726.5) scale(0.985,1)" font-size="43" fill="#0a0a0a" stroke="#fff" stroke-width="0.2">60</text>
<text transform="translate(432.35,999.4) scale(1.0375,1)" font-size="46" fill="#0a0a0a" stroke="#fff" stroke-width="0.2">(c)</text>
<text transform="translate(80.8,1410.48) rotate(-90) scale(0.9594,1)" font-size="54" font-style="italic" fill="#080808" stroke="#fff" stroke-width="0.5">RQI</text>
<text transform="translate(95,1317.66) rotate(-90) scale(0.9558,1)" font-size="32" fill="#080808" stroke="#fff" stroke-width="0.3">snr</text>
<text transform="translate(432.24,1787) scale(0.9734,1)" font-size="54" font-style="italic" fill="#080808" stroke="#fff" stroke-width="0.5">SNR</text>
<text transform="translate(541.96,1787) scale(0.9957,1)" font-size="53" fill="#080808" stroke="#fff" stroke-width="0.5">(dB)</text>
<text transform="translate(1040.11,1674.4) scale(0.975,1)" font-size="43" fill="#0a0a0a" stroke="#fff" stroke-width="0.2">0</text>
<text transform="translate(1005.49,1551.4) scale(0.975,1)" font-size="43" fill="#0a0a0a" stroke="#fff" stroke-width="0.2">0.2</text>
<text transform="translate(1004.76,1428.4) scale(0.975,1)" font-size="43" fill="#0a0a0a" stroke="#fff" stroke-width="0.2">0.4</text>
<text transform="translate(1005.25,1305.4) scale(0.975,1)" font-size="43" fill="#0a0a0a" stroke="#fff" stroke-width="0.2">0.6</text>
<text transform="translate(1005.25,1182.4) scale(0.975,1)" font-size="43" fill="#0a0a0a" stroke="#fff" stroke-width="0.2">0.8</text>
<text transform="translate(1040.59,1059.4) scale(0.975,1)" font-size="43" fill="#0a0a0a" stroke="#fff" stroke-width="0.2">1</text>
<text transform="translate(1058.57,1726.5) scale(0.985,1)" font-size="43" fill="#0a0a0a" stroke="#fff" stroke-width="0.2">0.5</text>
<text transform="translate(1191.87,1726.5) scale(0.985,1)" font-size="43" fill="#0a0a0a" stroke="#fff" stroke-width="0.2">0.6</text>
<text transform="translate(1325.3,1726.5) scale(0.985,1)" font-size="43" fill="#0a0a0a" stroke="#fff" stroke-width="0.2">0.7</text>
<text transform="translate(1458.47,1726.5) scale(0.985,1)" font-size="43" fill="#0a0a0a" stroke="#fff" stroke-width="0.2">0.8</text>
<text transform="translate(1591.9,1726.5) scale(0.985,1)" font-size="43" fill="#0a0a0a" stroke="#fff" stroke-width="0.2">0.9</text>
<text transform="translate(1742.19,1726.5) scale(0.985,1)" font-size="43" fill="#0a0a0a" stroke="#fff" stroke-width="0.2">1</text>
<text transform="translate(1318.9,999.4) scale(1.0198,1)" font-size="46" fill="#0a0a0a" stroke="#fff" stroke-width="0.2">(d)</text>
<text transform="translate(974.8,1418.67) rotate(-90) scale(0.9561,1)" font-size="54" font-style="italic" fill="#080808" stroke="#fff" stroke-width="0.5">RQI</text>
<text transform="translate(986.9,1326.5) rotate(-90) scale(0.9504,1)" font-size="32" fill="#080808" stroke="#fff" stroke-width="0.3">ρHV</text>
<text transform="translate(1391.83,1787.2) scale(0.9869,1)" font-size="54" font-style="italic" fill="#080808" stroke="#fff" stroke-width="0.5">ρ</text>
<text transform="translate(1420.3,1799.2)" font-size="31.5" fill="#1a1a1a" stroke="#fff" stroke-width="0.3">HV</text>
</g>
</g>
</svg>
</body>
</html>
